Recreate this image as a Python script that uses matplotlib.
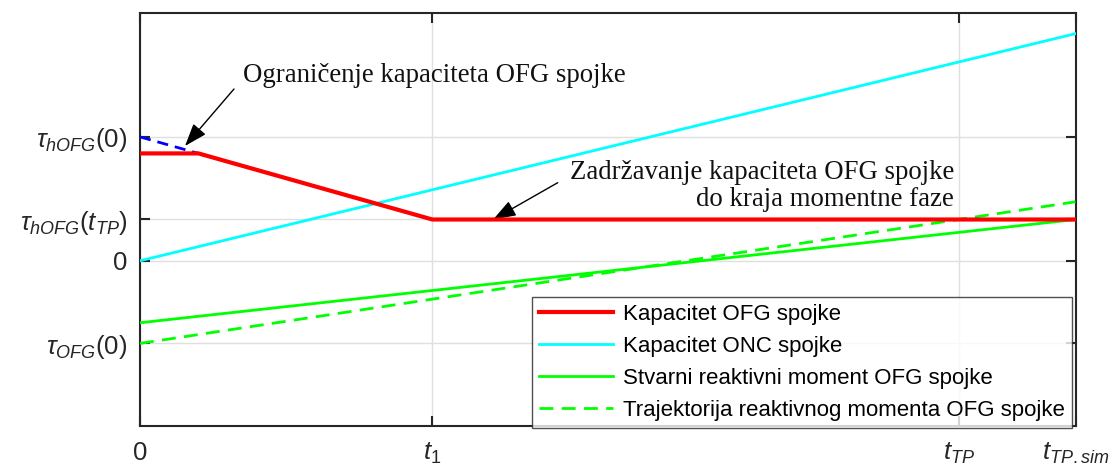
import numpy as np
import matplotlib
matplotlib.use("Agg")
import matplotlib.pyplot as plt

plt.rcParams['font.family'] = ['Liberation Sans', 'DejaVu Sans']
plt.rcParams['mathtext.fontset'] = 'custom'
plt.rcParams['mathtext.rm'] = 'Liberation Sans'
plt.rcParams['mathtext.it'] = 'Liberation Sans:italic'
plt.rcParams['mathtext.bf'] = 'Liberation Sans:bold'

# ---- data ----
t_red = [0.0, 0.5, 2.5, 8.0]
y_red = [2.6, 2.6, 1.0, 1.0]            # Kapacitet OFG spojke
t_blue = [0.0, 0.5]
y_blue = [3.0, 2.6]                     # ograničenje (dashed)
t_cyan = [0.0, 8.0]
y_cyan = [0.0, 5.5]                     # Kapacitet ONC spojke
t_green = [0.0, 8.0]
y_green = [-1.5, 1.0]                   # Stvarni reaktivni moment
t_green_d = [0.0, 8.0]
y_green_d = [-2.0, 1.4286]              # Trajektorija reaktivnog momenta

xticks = [0.0, 2.5, 7.0, 8.0]
xticklabels = ['0', r'$t_{\mathrm{1}}$', r'$t_{TP}$', r'$t_{TP.sim}$']
yticks = [-2.0, 0.0, 1.0, 3.0]
yticklabels = [r'$\tau_{OFG}\mathrm{(0)}$', '0',
               r'$\tau_{hOFG}\mathrm{(}t_{TP}\mathrm{)}$', r'$\tau_{hOFG}\mathrm{(0)}$']
legend_labels = ['Kapacitet OFG spojke', 'Kapacitet ONC spojke',
                 'Stvarni reaktivni moment OFG spojke',
                 'Trajektorija reaktivnog momenta OFG spojke']

W, H = 1111, 475
fig = plt.figure(figsize=(W/100, H/100), dpi=100)
ax = fig.add_axes([140/W, 1-426/H, (1075.5-140)/W, (426-13)/H])

ax.plot(t_blue, y_blue, color='#0000ff', lw=2.0, ls=(0, (4, 2.5)), zorder=3)
l1, = ax.plot(t_red, y_red, color='#ff0000', lw=3.0, zorder=4)
l2, = ax.plot(t_cyan, y_cyan, color='#00ffff', lw=2.0, zorder=3)
l3, = ax.plot(t_green, y_green, color='#00ff00', lw=2.0, zorder=3)
l4, = ax.plot(t_green_d, y_green_d, color='#00ff00', lw=2.0, ls=(0, (5, 3)), zorder=3)

ax.set_xlim(0, 8)
ax.set_ylim(-4, 6)
ax.set_xticks(xticks)
ax.set_xticklabels(xticklabels)
ax.set_yticks(yticks)
ax.set_yticklabels(yticklabels)
ax.grid(True, color='#dfdfdf', lw=1.0)
ax.set_axisbelow(True)
for s in ax.spines.values():
    s.set_linewidth(1.5)
    s.set_color('#262626')
ax.tick_params(direction='in', length=7, width=1.5, colors='#262626',
               top=True, right=True, labelsize=18.5)
ax.tick_params(axis='x', pad=11)
ax.tick_params(axis='y', pad=9)

leg = ax.legend([l1, l2, l3, l4], legend_labels, loc='lower right',
                bbox_to_anchor=(0.996, -0.004), borderaxespad=0,
                fontsize=16, frameon=True, fancybox=False, edgecolor='#262626',
                handlelength=3.35, handletextpad=0.45, labelspacing=0.5,
                borderpad=0.3)
leg.get_frame().set_linewidth(1.0)
leg.set_zorder(10)


def px(x, y):
    """figure-pixel coordinates measured from the top-left corner"""
    return (x, H - y)


arrow_style = dict(arrowstyle='-|>,head_length=1.4,head_width=0.5',
                   color='k', lw=1.0, shrinkA=0, shrinkB=0)

fig.text(243/W, 1-75/H, 'Ograničenje kapaciteta OFG spojke',
         fontfamily='Liberation Serif', fontsize=19.3, color='#111111',
         ha='left', va='center')
ax.annotate('', xy=(0.385, 2.78), xytext=px(234, 89), textcoords='figure pixels',
            arrowprops=arrow_style)

fig.text(954/W, 1-186/H, 'Zadržavanje kapaciteta OFG spojke\ndo kraja momentne faze',
         fontfamily='Liberation Serif', fontsize=19.3, color='#111111',
         ha='right', va='center', multialignment='right', linespacing=1.1)
ax.annotate('', xy=(3.02, 1.0), xytext=px(557.7, 182.7), textcoords='figure pixels',
            arrowprops=arrow_style)

fig.savefig('out.png', dpi=100)
